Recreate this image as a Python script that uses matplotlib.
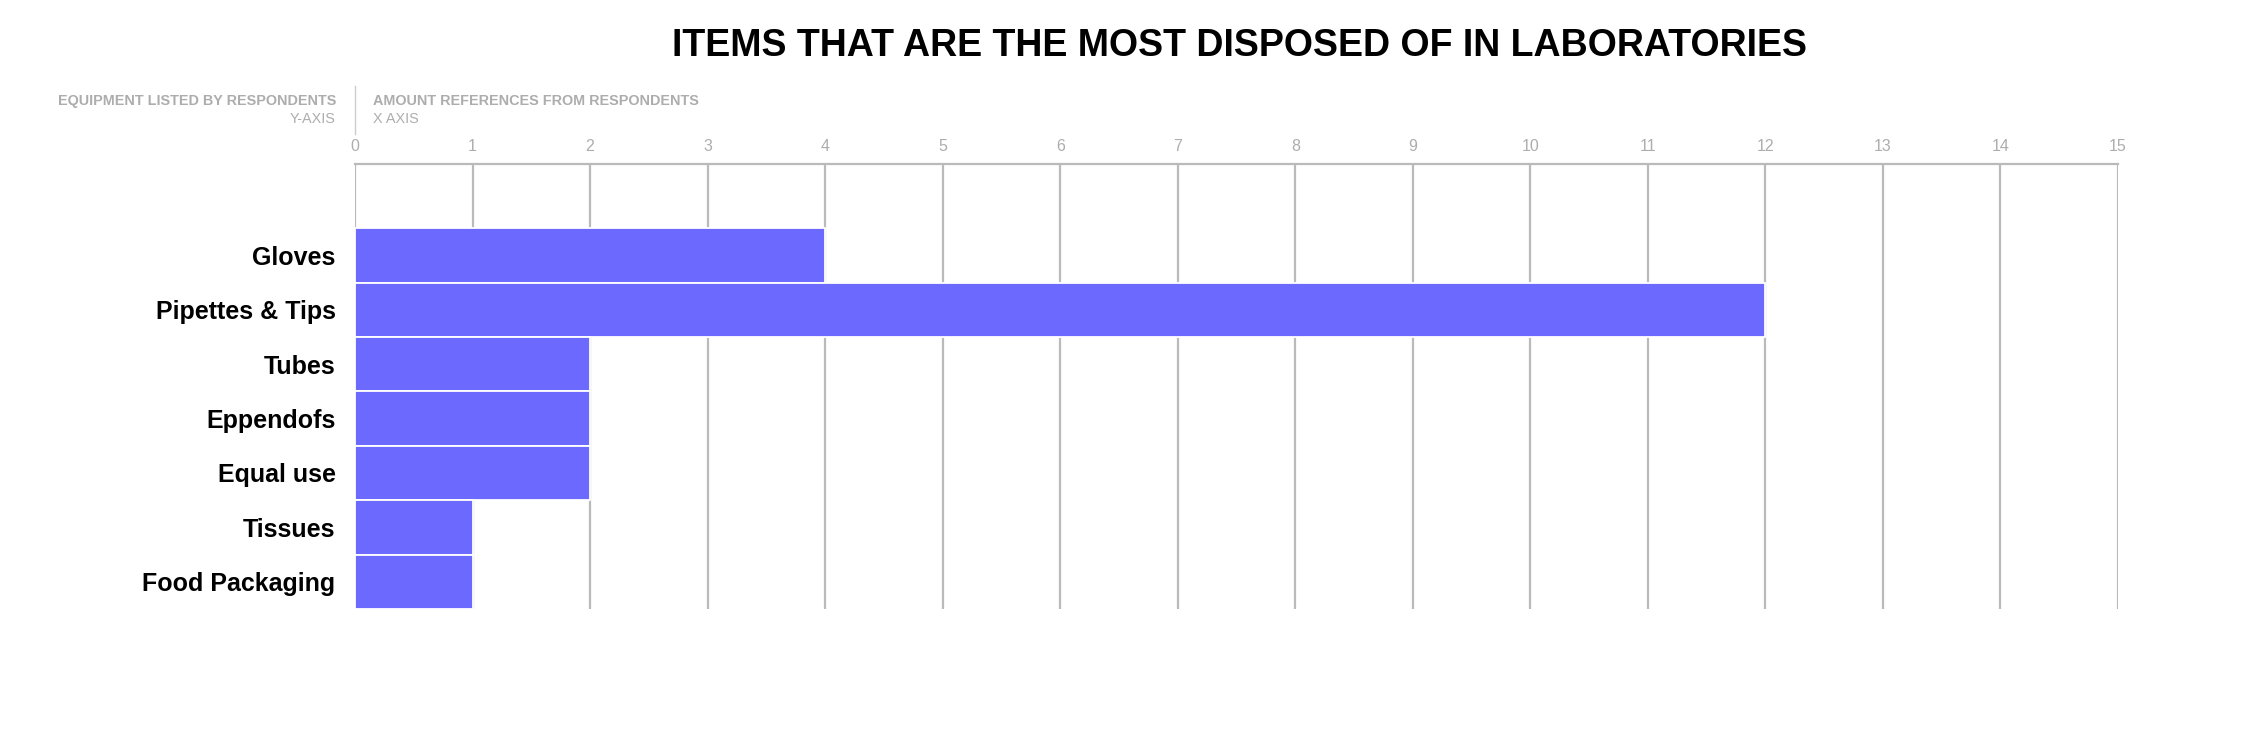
"""
Horizontal bar chart of items most disposed of in laboratories.
"""

import matplotlib
matplotlib.use("Agg")
import matplotlib.pyplot as plt

plt.rcParams["font.family"] = ["Liberation Sans", "DejaVu Sans"]

categories = [
    "Gloves",
    "Pipettes & Tips",
    "Tubes",
    "Eppendofs",
    "Equal use",
    "Tissues",
    "Food Packaging",
]
references = [4, 12, 2, 2, 2, 1, 1]
x_ticks = list(range(0, 16))

BAR_COLOR = "#6c69ff"
GRID_COLOR = "#bababa"
LIGHT_TEXT = "#adadad"

W, H = 2242, 730
fig = plt.figure(figsize=(W / 100, H / 100), dpi=100)

left, right = 355 / W, 2118 / W
top, bottom = 1 - 164 / H, 1 - 609 / H
ax = fig.add_axes([left, bottom, right - left, top - bottom])

y_pos = list(range(len(categories)))
ax.barh(
    y_pos,
    references,
    height=1.0,
    color=BAR_COLOR,
    edgecolor="white",
    linewidth=1.3,
    zorder=2
)

ax.set_xlim(0, 15)
ax.set_ylim(len(categories) - 0.5, -1.68)

ax.set_xticks(x_ticks)
ax.xaxis.tick_top()
ax.tick_params(
    axis="x",
    length=0,
    pad=7,
    labelsize=11.5,
    labelcolor=LIGHT_TEXT
)
ax.grid(axis="x", color=GRID_COLOR, linewidth=1.6, zorder=0)
ax.set_axisbelow(True)

ax.set_yticks(y_pos)
ax.set_yticklabels(categories, fontsize=18, fontweight="bold")
ax.tick_params(axis="y", length=0, pad=14)

for side in ["left", "right", "bottom"]:
    ax.spines[side].set_visible(False)
ax.spines["top"].set_color(GRID_COLOR)
ax.spines["top"].set_linewidth(1.6)

fig.text(
    1240 / W, 1 - 46 / H,
    "ITEMS THAT ARE THE MOST DISPOSED OF IN LABORATORIES",
    ha="center", va="center",
    fontsize=27, fontweight="bold", color="black"
)

fig.text(336 / W, 1 - 101 / H, "EQUIPMENT LISTED BY RESPONDENTS",
         ha="right", va="center", fontsize=10.4, fontweight="bold",
         color=LIGHT_TEXT)
fig.text(336 / W, 1 - 119 / H, "Y-AXIS",
         ha="right", va="center", fontsize=10.4, color=LIGHT_TEXT)
fig.text(373 / W, 1 - 101 / H, "AMOUNT REFERENCES FROM RESPONDENTS",
         ha="left", va="center", fontsize=10.4, fontweight="bold",
         color=LIGHT_TEXT)
fig.text(373 / W, 1 - 119 / H, "X AXIS",
         ha="left", va="center", fontsize=10.4, color=LIGHT_TEXT)

fig.add_artist(plt.Line2D(
    [left, left], [1 - 86 / H, 1 - 134 / H],
    transform=fig.transFigure, color="#cccccc", linewidth=1.0
))

fig.savefig("out.png", dpi=100, facecolor="white")
plt.close(fig)
